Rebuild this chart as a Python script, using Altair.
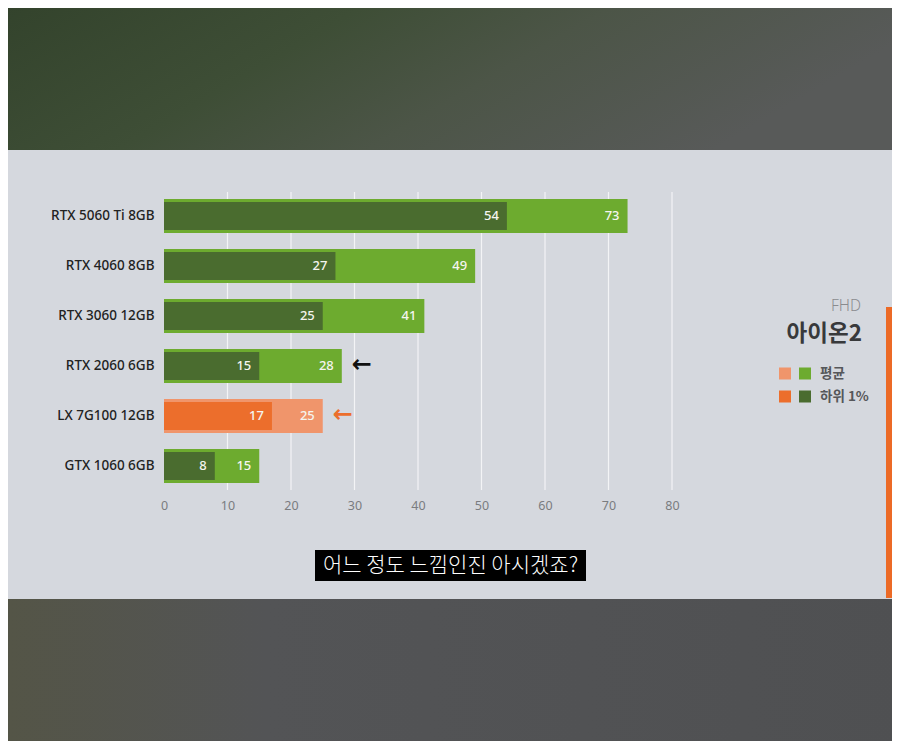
import altair as alt
import pandas as pd

# ---- data ----
gpus = ["RTX 5060 Ti 8GB", "RTX 4060 8GB", "RTX 3060 12GB",
        "RTX 2060 6GB", "LX 7G100 12GB", "GTX 1060 6GB"]
avg_fps = [73, 49, 41, 28, 25, 15]
low_fps = [54, 27, 25, 15, 17, 8]
highlight = "LX 7G100 12GB"
arrow_rows = ["RTX 2060 6GB", "LX 7G100 12GB"]
ticks = [0, 10, 20, 30, 40, 50, 60, 70, 80]
grid_ticks = [10, 20, 30, 40, 50, 60, 70, 80]
legend_labels = ["평균", "하위 1%"]
title_res = "FHD"
title_game = "아이온2"
subtitle = "어느 정도 느낌인진 아시겠죠?"

# ---- styles ----
PANEL = "#d5d8de"
GREEN_L = "#6dab2f"
GREEN_D = "#4a6c2f"
ORANGE_L = "#f0956b"
ORANGE_D = "#ec6e2c"
LATIN = "Noto Sans"
KR = "Noto Sans CJK KR"

df = pd.DataFrame({"gpu": gpus, "avg": avg_fps, "low": low_fps})
one = alt.Data(values=[{"k": 1}])

is_lx = alt.datum.gpu == highlight

y_axis = alt.Axis(title=None, domain=False, ticks=False, grid=False,
                  labelPadding=10, labelFontSize=13.5, labelColor="#222222",
                  labelFont=LATIN, labelFontWeight=500)
y_scale = alt.Scale(paddingInner=0, paddingOuter=0)
x_axis = alt.Axis(values=ticks, title=None, grid=False, domain=False,
                  ticks=False, tickSize=0, labelPadding=8, labelFontSize=12.5,
                  labelColor="#7a7c80", labelFont=LATIN, labelFlush=False)
x_scale = alt.Scale(domain=[0, 80], nice=False)


def X(field):
    return alt.X(field, scale=x_scale, axis=x_axis)


def Y():
    return alt.Y("gpu:N", sort=gpus, scale=y_scale, axis=y_axis)


base = alt.Chart(df)

# decorative background bands
top_band = alt.Chart(one).mark_rect(
    color=alt.LinearGradient(gradient="linear", x1=0, x2=1, y1=0, y2=0.3, stops=[
        alt.GradientStop(color="#32422b", offset=0),
        alt.GradientStop(color="#3e4e36", offset=0.4),
        alt.GradientStop(color="#4c5547", offset=0.65),
        alt.GradientStop(color="#585a59", offset=1)])
).encode(x=alt.value(-170), x2=alt.value(740), y=alt.value(-200), y2=alt.value(-41))

bottom_band = alt.Chart(one).mark_rect(
    color=alt.LinearGradient(gradient="linear", x1=0, x2=1, y1=0, y2=0, stops=[
        alt.GradientStop(color="#545546", offset=0),
        alt.GradientStop(color="#535456", offset=0.3),
        alt.GradientStop(color="#4f5052", offset=1)])
).encode(x=alt.value(-170), x2=alt.value(740), y=alt.value(408), y2=alt.value(570))

side_bar = alt.Chart(one).mark_rect(color="#ec6a26").encode(
    x=alt.value(722), x2=alt.value(740), y=alt.value(116), y2=alt.value(407))

# grid
grid = alt.Chart(pd.DataFrame({"t": grid_ticks})).mark_rule(
    color="#f3f4f6", strokeWidth=1.2
).encode(x=X("t:Q"), y=alt.value(1), y2=alt.value(299))

bars_avg = base.mark_bar(size=34).encode(
    x=X("avg:Q"), y=Y(),
    color=alt.condition(is_lx, alt.value(ORANGE_L), alt.value(GREEN_L)),
)

bars_low = base.mark_bar(size=28).encode(
    x=X("low:Q"), y=Y(),
    color=alt.condition(is_lx, alt.value(ORANGE_D), alt.value(GREEN_D)),
)

lab_avg = base.mark_text(align="right", dx=-8, fontSize=13, font=LATIN,
                         fontWeight=500, color="#f5f5ef").encode(
    x=X("avg:Q"), y=Y(), text="avg:Q")

lab_low = base.mark_text(align="right", dx=-8, fontSize=13, font=LATIN,
                         fontWeight=500, color="#f5f5ef").encode(
    x=X("low:Q"), y=Y(), text="low:Q")

arrows = base.transform_filter(
    alt.FieldOneOfPredicate(field="gpu", oneOf=arrow_rows)
).mark_text(text="←", align="left", dx=10, dy=-1, fontSize=24, fontWeight="bold",
            font="DejaVu Sans").encode(
    x=X("avg:Q"), y=Y(),
    color=alt.condition(is_lx, alt.value(ORANGE_D), alt.value("#111111")),
)

# legend block
t_res = alt.Chart(one).mark_text(text=title_res, align="right", baseline="middle",
                                 fontSize=15.5, font=LATIN, fontWeight=300,
                                 color="#8a8b8e").encode(x=alt.value(697), y=alt.value(115))
t_game = alt.Chart(one).mark_text(text=title_game, align="right", baseline="middle",
                                  fontSize=22.5, font=KR, fontWeight="bold",
                                  color="#38393b").encode(x=alt.value(698), y=alt.value(143))


def swatch(color, xpos, ypos):
    return alt.Chart(one).mark_square(size=144, color=color, opacity=1).encode(
        x=alt.value(xpos), y=alt.value(ypos))


leg = [
    swatch(ORANGE_L, 621, 182.5), swatch(GREEN_L, 641, 182.5),
    swatch(ORANGE_D, 621, 205.5), swatch(GREEN_D, 641, 205.5),
    alt.Chart(one).mark_text(text=legend_labels[0], align="left", baseline="middle",
                             fontSize=13.5, font=KR, fontWeight="bold",
                             color="#56575a").encode(x=alt.value(656), y=alt.value(182.5)),
    alt.Chart(one).mark_text(text=legend_labels[1], align="left", baseline="middle",
                             fontSize=13.5, font=KR, fontWeight="bold",
                             color="#56575a").encode(x=alt.value(656), y=alt.value(205.5)),
]

# subtitle
sub_box = alt.Chart(one).mark_rect(color="#000000").encode(
    x=alt.value(151), x2=alt.value(422), y=alt.value(359), y2=alt.value(390))
sub_txt = alt.Chart(one).mark_text(text=subtitle, align="center", baseline="middle",
                                   fontSize=21, font=KR, fontWeight=300,
                                   color="#ffffff").encode(
    x=alt.value(286.5), y=alt.value(375))

chart = alt.layer(
    top_band, bottom_band, side_bar, grid, bars_avg, bars_low, lab_avg, lab_low,
    arrows, t_res, t_game, *leg, sub_box, sub_txt
).properties(
    width=508, height=300,
    autosize=alt.AutoSizeParams(type="none"),
    padding={"left": 156, "top": 183, "right": 220, "bottom": 250},
    background=PANEL,
).configure_view(stroke=None)

chart.save("out.html", embed_options={"renderer": "svg", "actions": False})
